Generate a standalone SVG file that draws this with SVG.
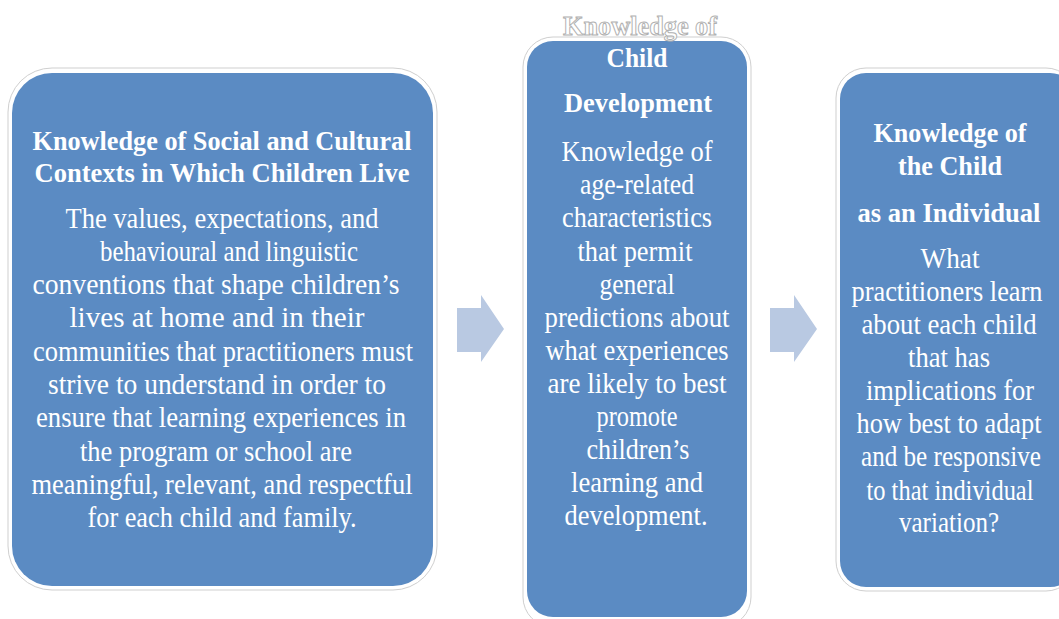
<svg xmlns="http://www.w3.org/2000/svg" width="1059" height="619" viewBox="0 0 1059 619">
<style>
.frame{fill:#ffffff;stroke:#cfcfcf;stroke-width:1}
.box{fill:#5b8bc3}
.arrow{fill:#b9c9e2}
text{font-family:"Liberation Serif","Times New Roman",serif;fill:#ffffff;text-anchor:middle;font-size:30px}
.h{font-weight:bold;font-size:28px}
.ol{stroke:#b0b0b0;stroke-width:1}
</style>
<rect width="1059" height="619" fill="#ffffff"/>
<g id="connectors">
<polygon class="arrow" points="457,308 481,308 481,295 504,329 481,362 481,352 457,352"/>
<polygon class="arrow" points="770,308 794,308 794,295 817,329 794,362 794,352 770,352"/>
</g>
<g id="node-social">
<rect class="frame" x="8" y="68" width="429" height="522" rx="44"/>
<rect class="box" x="12" y="73" width="421" height="513" rx="40"/>
<text class="h" x="222" y="150" textLength="379" lengthAdjust="spacingAndGlyphs">Knowledge of Social and Cultural</text>
<text class="h" x="222" y="182" textLength="375" lengthAdjust="spacingAndGlyphs">Contexts in Which Children Live</text>
<text x="222" y="228" textLength="313" lengthAdjust="spacingAndGlyphs">The values, expectations, and</text>
<text x="229" y="261" textLength="258" lengthAdjust="spacingAndGlyphs">behavioural and linguistic</text>
<text x="216" y="294" textLength="367" lengthAdjust="spacingAndGlyphs">conventions that shape children’s</text>
<text x="217" y="327" textLength="295" lengthAdjust="spacingAndGlyphs">lives at home and in their</text>
<text x="223" y="361" textLength="380" lengthAdjust="spacingAndGlyphs">communities that practitioners must</text>
<text x="217" y="394" textLength="338" lengthAdjust="spacingAndGlyphs">strive to understand in order to</text>
<text x="221" y="427" textLength="370" lengthAdjust="spacingAndGlyphs">ensure that learning experiences in</text>
<text x="216" y="461" textLength="272" lengthAdjust="spacingAndGlyphs">the program or school are</text>
<text x="222" y="494" textLength="381" lengthAdjust="spacingAndGlyphs">meaningful, relevant, and respectful</text>
<text x="222" y="527" textLength="269" lengthAdjust="spacingAndGlyphs">for each child and family.</text>
</g>
<g id="node-development">
<rect class="frame" x="523" y="37" width="228" height="590" rx="30"/>
<rect class="box" x="527" y="41" width="220" height="576" rx="26"/>
<text class="h ol" x="640" y="35" textLength="154" lengthAdjust="spacingAndGlyphs">Knowledge of</text>
<text class="h" x="637" y="67" textLength="61" lengthAdjust="spacingAndGlyphs">Child</text>
<text class="h" x="638" y="112" textLength="148" lengthAdjust="spacingAndGlyphs">Development</text>
<text x="637" y="161" textLength="151" lengthAdjust="spacingAndGlyphs">Knowledge of</text>
<text x="637" y="194" textLength="114" lengthAdjust="spacingAndGlyphs">age-related</text>
<text x="637" y="227" textLength="150" lengthAdjust="spacingAndGlyphs">characteristics</text>
<text x="635" y="261" textLength="115" lengthAdjust="spacingAndGlyphs">that permit</text>
<text x="637" y="294" textLength="75" lengthAdjust="spacingAndGlyphs">general</text>
<text x="637" y="327" textLength="185" lengthAdjust="spacingAndGlyphs">predictions about</text>
<text x="637" y="360" textLength="183" lengthAdjust="spacingAndGlyphs">what experiences</text>
<text x="637" y="393" textLength="179" lengthAdjust="spacingAndGlyphs">are likely to best</text>
<text x="637" y="426" textLength="81" lengthAdjust="spacingAndGlyphs">promote</text>
<text x="638" y="459" textLength="103" lengthAdjust="spacingAndGlyphs">children’s</text>
<text x="637" y="492" textLength="132" lengthAdjust="spacingAndGlyphs">learning and</text>
<text x="636" y="525" textLength="143" lengthAdjust="spacingAndGlyphs">development.</text>
</g>
<g id="node-individual">
<rect class="frame" x="836" y="68" width="240" height="523" rx="30"/>
<rect class="box" x="840" y="73" width="236" height="514" rx="26"/>
<text class="h" x="950" y="142" textLength="153" lengthAdjust="spacingAndGlyphs">Knowledge of</text>
<text class="h" x="950" y="175" textLength="104" lengthAdjust="spacingAndGlyphs">the Child</text>
<text class="h" x="949" y="222" textLength="183" lengthAdjust="spacingAndGlyphs">as an Individual</text>
<text x="950" y="268" textLength="59" lengthAdjust="spacingAndGlyphs">What</text>
<text x="947" y="301" textLength="191" lengthAdjust="spacingAndGlyphs">practitioners learn</text>
<text x="949" y="334" textLength="175" lengthAdjust="spacingAndGlyphs">about each child</text>
<text x="949" y="367" textLength="82" lengthAdjust="spacingAndGlyphs">that has</text>
<text x="950" y="400" textLength="168" lengthAdjust="spacingAndGlyphs">implications for</text>
<text x="949" y="433" textLength="185" lengthAdjust="spacingAndGlyphs">how best to adapt</text>
<text x="951" y="466" textLength="180" lengthAdjust="spacingAndGlyphs">and be responsive</text>
<text x="950" y="500" textLength="167" lengthAdjust="spacingAndGlyphs">to that individual</text>
<text x="949" y="532" textLength="100" lengthAdjust="spacingAndGlyphs">variation?</text>
</g>
</svg>
